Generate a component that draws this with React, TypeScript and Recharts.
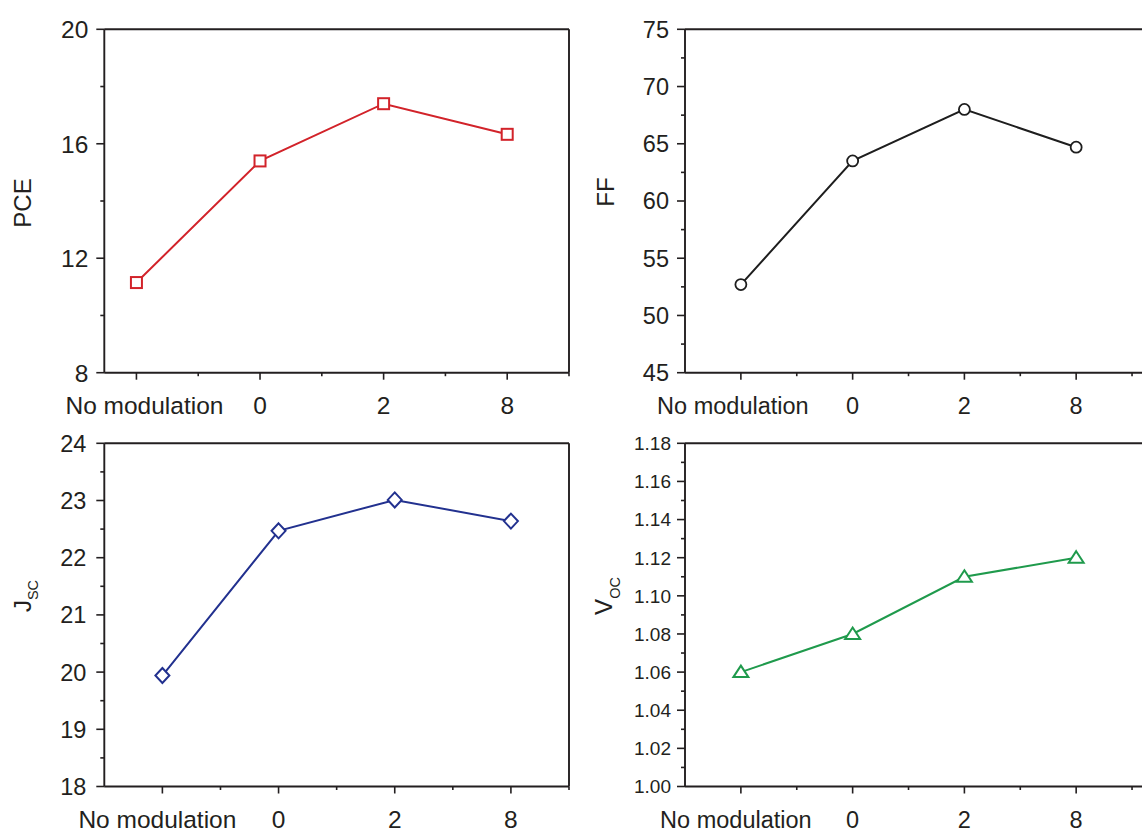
import React from "react";
import { LineChart, Line, XAxis, YAxis, ReferenceLine } from "recharts";

const categories = ["No modulation", "0", "2", "8"];
const categoryPos = [1, 2, 3, 4];
const xMinor = [1.5, 2.5, 3.5, 4.5];

const pce = [11.15, 15.4, 17.4, 16.33];
const ff = [52.7, 63.5, 68.0, 64.7];
const jsc = [19.94, 22.47, 23.01, 22.64];
const voc = [1.06, 1.08, 1.11, 1.12];

const pceMajor = [8, 12, 16, 20];
const pceMinor = [10, 14, 18];
const ffMajor = [45, 50, 55, 60, 65, 70, 75];
const ffMinor = [47.5, 52.5, 57.5, 62.5, 67.5, 72.5];
const jscMajor = [18, 19, 20, 21, 22, 23, 24];
const jscMinor = [18.5, 19.5, 20.5, 21.5, 22.5, 23.5];
const vocMajor = [1.0, 1.02, 1.04, 1.06, 1.08, 1.1, 1.12, 1.14, 1.16, 1.18];
const vocMinor = [1.01, 1.03, 1.05, 1.07, 1.09, 1.11, 1.13, 1.15, 1.17];

const FONT = "'Liberation Sans', Arial, Helvetica, sans-serif";
const INK = "#231f20";
const Y_AXIS_W = 100;
const X_AXIS_H = 40;

type Shape = "square" | "circle" | "diamond" | "triangle";

function Marker({ cx, cy, shape, color }: { cx: number; cy: number; shape: Shape; color: string }) {
  const common = { fill: "#fff", stroke: color, strokeWidth: 2 };
  if (shape === "square") return <rect x={cx - 5.5} y={cy - 5.5} width={11} height={11} {...common} />;
  if (shape === "circle") return <circle cx={cx} cy={cy} r={5.5} {...common} strokeWidth={1.8} />;
  if (shape === "diamond")
    return <polygon points={`${cx},${cy - 7.5} ${cx + 7},${cy} ${cx},${cy + 7.5} ${cx - 7},${cy}`} {...common} />;
  return <polygon points={`${cx},${cy - 6.5} ${cx + 7.5},${cy + 5} ${cx - 7.5},${cy + 5}`} {...common} />;
}

type PanelProps = {
  left: number;
  top: number;
  width: number;
  height: number;
  margin: { top: number; right: number; bottom: number; left: number };
  values: number[];
  color: string;
  shape: Shape;
  xDomain: [number, number];
  yDomain: [number, number];
  yMajor: number[];
  yMinor: number[];
  yDigits: number;
  yFont: number;
  yLabelGap: number;
  xFont: number;
  firstDx: number;
  rightBorder: boolean;
  title: (x: number, y: number) => React.ReactNode;
  titleX: number;
  titleY: number;
};

function Panel(p: PanelProps) {
  const rows = categoryPos.map((x, i) => ({ x, v: p.values[i] }));
  const axisX = p.margin.left + Y_AXIS_W;
  const axisY = p.height - p.margin.bottom - X_AXIS_H;
  const isMajor = (v: number) => p.yMajor.some((m) => Math.abs(m - v) < 1e-9);

  const xTick = (t: any) => {
    const v = t.payload.value;
    const major = Number.isInteger(v);
    return (
      <g key={`xt-${v}`}>
        <line x1={t.x} x2={t.x} y1={axisY} y2={axisY + (major ? 7 : 3.5)} stroke={INK} strokeWidth={1.6} />
        {major && (
          <text
            x={t.x + (v === 1 ? p.firstDx : 0)}
            y={axisY + 41.5}
            textAnchor="middle"
            fontSize={p.xFont}
            fontFamily={FONT}
            fill={INK}
          >
            {categories[v - 1]}
          </text>
        )}
      </g>
    );
  };

  const yTick = (t: any) => {
    const v = t.payload.value;
    const major = isMajor(v);
    return (
      <g key={`yt-${v}`}>
        <line x1={axisX - (major ? 8 : 4)} x2={axisX} y1={t.y} y2={t.y} stroke={INK} strokeWidth={1.6} />
        {major && (
          <text
            x={axisX - p.yLabelGap}
            y={t.y + p.yFont * 0.36}
            textAnchor="end"
            fontSize={p.yFont}
            fontFamily={FONT}
            fill={INK}
          >
            {v.toFixed(p.yDigits)}
          </text>
        )}
      </g>
    );
  };

  const yTicks = [...p.yMajor, ...p.yMinor].sort((a, b) => a - b);
  const xTicks = [...categoryPos, ...xMinor]
    .filter((v) => v >= p.xDomain[0] && v <= p.xDomain[1])
    .sort((a, b) => a - b);

  return (
    <div style={{ position: "absolute", left: p.left, top: p.top }}>
      <LineChart width={p.width} height={p.height} data={rows} margin={p.margin}>
        <XAxis
          dataKey="x"
          type="number"
          domain={p.xDomain}
          allowDataOverflow
          ticks={xTicks}
          interval={0}
          height={X_AXIS_H}
          tickSize={7}
          tickMargin={0}
          tickLine={false}
          axisLine={{ stroke: INK, strokeWidth: 1.9 }}
          tick={xTick}
        />
        <YAxis
          type="number"
          domain={p.yDomain}
          allowDataOverflow
          ticks={yTicks}
          interval={0}
          width={Y_AXIS_W}
          tickSize={8}
          tickMargin={8}
          tickLine={false}
          axisLine={{ stroke: INK, strokeWidth: 1.9 }}
          tick={yTick}
          label={() => p.title(p.titleX, p.titleY)}
        />
        <ReferenceLine y={p.yDomain[1]} stroke={INK} strokeWidth={1.9} />
        {p.rightBorder && <ReferenceLine x={p.xDomain[1]} stroke={INK} strokeWidth={1.9} />}
        <Line
          type="linear"
          dataKey="v"
          stroke={p.color}
          strokeWidth={2}
          isAnimationActive={false}
          activeDot={false}
          dot={(d: any) => <Marker key={`m-${d.index}`} cx={d.cx} cy={d.cy} shape={p.shape} color={p.color} />}
        />
      </LineChart>
    </div>
  );
}

const rotated = (x: number, y: number, main: string, sub?: string, subDy = 7) => (
  <text
    x={x}
    y={y}
    transform={`rotate(-90 ${x} ${y})`}
    textAnchor="middle"
    fontSize={24}
    fontFamily={FONT}
    fill={INK}
  >
    {main}
    {sub && (
      <tspan fontSize={14.5} dy={subDy}>
        {sub}
      </tspan>
    )}
  </text>
);

export default function App() {
  return (
    <div
      style={{
        position: "absolute",
        left: 0,
        top: 0,
        width: 1142,
        height: 832,
        background: "#fff",
        overflow: "hidden",
      }}
    >
      <Panel
        left={0}
        top={0}
        width={580}
        height={420}
        margin={{ top: 29.3, right: 11, bottom: 7.3, left: 4.3 }}
        values={pce}
        color="#d2232a"
        shape="square"
        xDomain={[0.74, 4.5]}
        yDomain={[8, 20]}
        yMajor={pceMajor}
        yMinor={pceMinor}
        yDigits={0}
        yFont={24.5}
        yLabelGap={16}
        xFont={24.5}
        firstDx={8}
        rightBorder
        title={(x, y) => rotated(x, y, "PCE")}
        titleX={30.6}
        titleY={203}
      />
      <Panel
        left={580}
        top={0}
        width={564}
        height={420}
        margin={{ top: 29.3, right: 0, bottom: 7.3, left: 5 }}
        values={ff}
        color="#1e1e1e"
        shape="circle"
        xDomain={[0.5, 4.607]}
        yDomain={[45, 75]}
        yMajor={ffMajor}
        yMinor={ffMinor}
        yDigits={0}
        yFont={23.5}
        yLabelGap={16}
        xFont={23.5}
        firstDx={-8}
        rightBorder={false}
        title={(x, y) => rotated(x, y, "FF")}
        titleX={34}
        titleY={192}
      />
      <Panel
        left={0}
        top={420}
        width={580}
        height={412}
        margin={{ top: 23.3, right: 11, bottom: 5.5, left: 4.3 }}
        values={jsc}
        color="#22318f"
        shape="diamond"
        xDomain={[0.5, 4.5]}
        yDomain={[18, 24]}
        yMajor={jscMajor}
        yMinor={jscMinor}
        yDigits={0}
        yFont={23.5}
        yLabelGap={18}
        xFont={24.5}
        firstDx={-5}
        rightBorder
        title={(x, y) => rotated(x, y, "J", "SC", 7)}
        titleX={30.6}
        titleY={176}
      />
      <Panel
        left={580}
        top={420}
        width={564}
        height={412}
        margin={{ top: 23.3, right: 0, bottom: 5.5, left: 5 }}
        values={voc}
        color="#1f9a4c"
        shape="triangle"
        xDomain={[0.5, 4.607]}
        yDomain={[1.0, 1.18]}
        yMajor={vocMajor}
        yMinor={vocMinor}
        yDigits={2}
        yFont={19}
        yLabelGap={14}
        xFont={23.5}
        firstDx={-5}
        rightBorder={false}
        title={(x, y) => rotated(x, y, "V", "OC", 8)}
        titleX={31.7}
        titleY={176}
      />
    </div>
  );
}
